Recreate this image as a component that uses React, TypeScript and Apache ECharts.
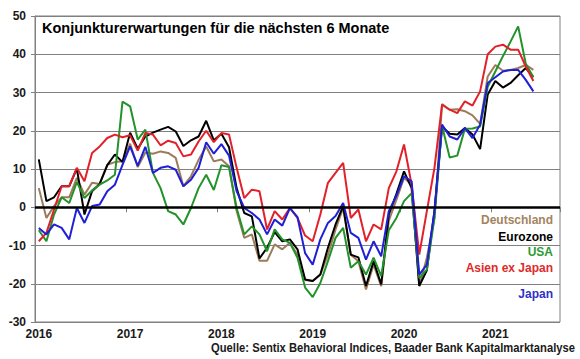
import React, { useEffect, useRef } from "react";
import * as echarts from "echarts";

const yearLabels = ["2016", "2017", "2018", "2019", "2020", "2021"];
const monthCount = 69; // Jan 2016 .. Sep 2021

const deutschland = [
  5, -2.8, 0.3, 2.6, 2.6, 7.7, 3.3, 6.4, 6.1, 11.1, 11.8, 12,
  16.6, 10.5, 14.3, 14, 14.6, 14.2, 12.9, 5.5, 8.1, 12.4, 15.9, 12,
  12.5, 10.7, -1, -8, -7.1, -14, -14, -9.7, -11, -9.3, -12.4, -19,
  -19.3, -17.6, -12.4, -5.8, -0.2, -12.4, -14.1, -21.5, -15, -20.6, -3.5, 2,
  7.7, 5.9, -20.6, -13.2, -2.8, 27, 25.5, 25.6, 25.1, 24, 21.8, 34.2,
  37.2, 35.7, 35.9, 36.4, 37.2, 35.9,
];
const eurozone = [
  12.5, 1.6, 2.6, 5.5, 5.5, 10.1, -1.9, 4.2, 6.1, 11, 13.8, 11.8,
  19.5, 15.3, 18.5, 19.5, 20.3, 21, 19.8, 16, 17.5, 18.5, 22.6, 17.5,
  19.2, 15.7, 5, -1.5, -2.4, -13.4, -10.6, -6.5, -8.9, -8.4, -11, -18.9,
  -19.3, -17.6, -10.6, -4.5, 0.3, -12.4, -13.1, -20.6, -14.1, -20.2, -1.9, 3.5,
  9.4, 5, -20.6, -16.5, -1, 21.1, 19.2, 19, 20.7, 19, 15.2, 29.5,
  33, 31.3, 32.5, 34.5, 36.4, 34,
];
const usa = [
  -6, -8.9, -1.9, 2.6, 1.1, 6.6, 2.4, 4.4, 5.9, 7, 8.5, 27.6,
  26.4, 17.7, 20.3, 9, 5, -1, -1.9, -4.5, -0.2, 5, 8.5, 4.5,
  11, 10.5, -0.2, -7.1, -5, -7.1, -11.5, -5.8, -8.4, -9.3, -13.2, -21,
  -23.5, -19.8, -14.1, -8, -5.4, -15.8, -14.1, -17.6, -13.2, -18, -6, -2.8,
  1.6, 3.7, -18.5, -16.3, -2.8, 21.3, 13, 13.5, 20.5, 20.6, 21.1, 31.5,
  35.5, 39.5, 43.3, 47.3, 37.5, 34,
];
const asienExJapan = [
  -8.9, -6.7, -0.6, 5.5, 5.5, 10.3, 6.8, 14.2, 15.9, 18.1, 19, 18.3,
  18.8, 14.8, 19.4, 19, 16.2, 17.4, 16.8, 13.3, 13.8, 17.2, 20, 17,
  19.4, 19, 10.3, 2.4, 4.6, 4.2, -5.8, -1, -3.2, -0.2, -2.8, -7.4,
  -8.9, -1.9, 6.4, 9, 11.6, -2.8, -0.6, -8.9, -4.5, -5.8, 5, 9.4,
  16.4, 5.9, -12.4, -1, 10.3, 26.8, 25.5, 24.6, 27.7, 26.6, 30.3, 40,
  42, 42.5, 41.2, 41.2, 36.8, 33,
];
const japan = [
  -5.4, -7.1, -4.5, -5.4, -8.4, -0.2, -4.1, 0.3, 0.7, 4.2, 5.9, 11.1,
  15.9, 10.8, 15.8, 9, 10.3, 10.7, 9.8, 5.5, 7.2, 10.3, 17, 14,
  16.5, 13.5, 4.2, -0.2, -1.5, -3.2, -7.1, -3.2, -4.8, -0.2, -2.6, -12,
  -15, -8.4, -4.1, -2.3, 1.1, -6.7, -8, -13.7, -8.9, -12.8, -1, 3,
  8.1, 6.8, -17.6, -15, -1, 21.6, 18.5, 17.7, 20.7, 18.1, 21.6, 32.5,
  34, 35.5, 35.9, 35.9, 33.3, 30.3,
];

const seriesNames = ["Deutschland", "Eurozone", "USA", "Asien ex Japan", "Japan"];
const lineColors = ["#9C7B58", "#000000", "#23922A", "#E3202A", "#1F1FD6"];
const labelColors = ["#A38461", "#000000", "#2E9A33", "#E02A2A", "#3030C8"];
const legendY = [220, 236.5, 252, 268, 294];

const App: React.FC = () => {
  const ref = useRef<HTMLDivElement>(null);

  useEffect(() => {
    if (!ref.current) return;
    document.body.style.margin = "0";
    const chart = echarts.init(ref.current, undefined, { renderer: "svg" });

    const categories: string[] = [];
    for (let i = 0; i < monthCount; i++) {
      const y = yearLabels[Math.floor(i / 12)];
      const m = (i % 12) + 1;
      categories.push(`${y}-${m < 10 ? "0" + m : m}`);
    }

    const dataSets = [deutschland, eurozone, usa, asienExJapan, japan];
    const font = "Arial, 'Liberation Sans', sans-serif";

    chart.setOption({
      animation: false,
      backgroundColor: "#ffffff",
      title: {
        text: "Konjunkturerwartungen für die nächsten 6 Monate",
        left: 42,
        top: 20,
        padding: 0,
        textStyle: { fontFamily: font, fontSize: 14.5, fontWeight: "bold", color: "#000" },
      },
      grid: {
        left: 35,
        right: 20,
        top: 16,
        bottom: 37,
        show: true,
        borderColor: "#808080",
        borderWidth: 1,
        containLabel: false,
      },
      xAxis: {
        type: "category",
        data: categories,
        boundaryGap: true,
        axisLine: { show: true, lineStyle: { color: "#808080", width: 1 } },
        axisTick: {
          show: true,
          length: 5,
          interval: (i: number) => i % 12 === 0,
          lineStyle: { color: "#808080" },
        },
        axisLabel: {
          interval: (i: number) => i % 12 === 0,
          formatter: (v: string) => v.slice(0, 4),
          fontFamily: font,
          fontSize: 12,
          fontWeight: "bold",
          color: "#1a1a1a",
          margin: 6,
        },
        splitLine: { show: false },
      },
      yAxis: {
        type: "value",
        min: -30,
        max: 50,
        interval: 10,
        axisLine: { show: true, lineStyle: { color: "#808080", width: 1 } },
        axisTick: { show: true, length: 4, lineStyle: { color: "#808080" } },
        axisLabel: {
          fontFamily: font,
          fontSize: 12,
          fontWeight: "bold",
          color: "#1a1a1a",
          margin: 9,
        },
        splitLine: { show: true, lineStyle: { color: "#808080", width: 1 } },
      },
      series: seriesNames.map((name, idx) => ({
        name,
        type: "line",
        data: dataSets[idx],
        showSymbol: false,
        symbol: "none",
        lineStyle: { color: lineColors[idx], width: 2 },
        itemStyle: { color: lineColors[idx] },
        z: 2 + idx,
        markLine:
          idx === 0
            ? {
                silent: true,
                symbol: "none",
                label: { show: false },
                lineStyle: { color: "#000", width: 2.5, type: "solid" },
                data: [{ yAxis: 0 }],
                z: 10,
              }
            : undefined,
      })),
      graphic: [
        ...seriesNames.map((name, idx) => ({
          type: "text",
          x: 553,
          y: legendY[idx],
          z: 100,
          style: {
            text: name,
            fill: labelColors[idx],
            font: `bold 12px ${font}`,
            align: "right",
            verticalAlign: "middle",
          },
        })),
        {
          type: "text",
          x: 575,
          y: 347,
          scaleX: 0.935,
          originX: 0,
          originY: 0,
          z: 100,
          style: {
            text: "Quelle: Sentix Behavioral Indices, Baader Bank Kapitalmarktanalyse",
            fill: "#1a1a1a",
            font: `bold 12px ${font}`,
            align: "right",
            verticalAlign: "middle",
          },
        },
      ],
    });

    return () => chart.dispose();
  }, []);

  return (
    <div
      ref={ref}
      style={{ position: "absolute", left: 0, top: 0, width: 580, height: 359 }}
    />
  );
};

export default App;
